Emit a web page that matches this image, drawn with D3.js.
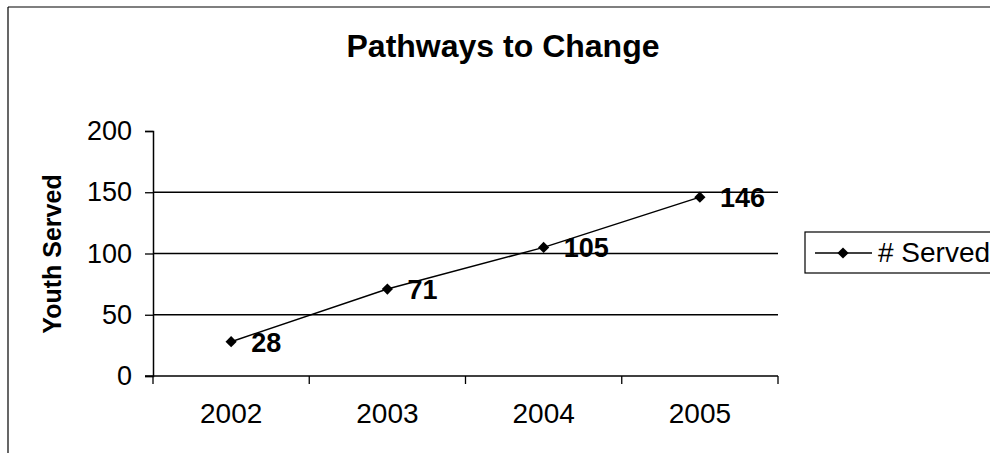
<!DOCTYPE html>
<html>
<head>
<meta charset="utf-8">
<script src="https://cdn.jsdelivr.net/npm/d3@7"></script>
<style>
  body { margin: 0; background: #fff; }
  svg { display: block; font-family: "Liberation Sans", Arial, sans-serif; }
</style>
</head>
<body>
<svg id="chart" width="990" height="453"></svg>
<script>
// data
let years = ['2002', '2003', '2004', '2005']
let served = [28, 71, 105, 146]
let yTicks = [0, 50, 100, 150, 200]
let gridTicks = [50, 100, 150]

let svg = d3.select('#chart')

// outer chart border (only top and left show in the scan)
svg.append('line').attr('x1', 8).attr('y1', 7).attr('x2', 990).attr('y2', 7)
   .attr('stroke', '#000').attr('stroke-width', 1.2)
svg.append('line').attr('x1', 8).attr('y1', 7).attr('x2', 8).attr('y2', 453)
   .attr('stroke', '#000').attr('stroke-width', 1.2)

let xScale = d3.scaleBand()
    .domain(years)
    .range([153, 778])
    .padding(0)

let yScale = d3.scaleLinear()
    .domain([0, 200])
    .range([376, 131])

// gridlines
svg.append('g')
   .selectAll('line')
   .data(gridTicks)
   .enter()
     .append('line')
     .attr('x1', 153).attr('x2', 778)
     .attr('y1', d => yScale(d)).attr('y2', d => yScale(d))
     .attr('stroke', '#000').attr('stroke-width', 1.3)

// y axis
let yAxis = svg.append('g')
   .attr('transform', 'translate(153, 0)')
   .call(d3.axisLeft(yScale).tickValues(yTicks).tickSize(8).tickPadding(13))
yAxis.select('.domain').attr('stroke-width', 1.5)
yAxis.selectAll('.tick line').attr('stroke-width', 1.3)
yAxis.selectAll('text')
   .style('font-size', '27px')
   .style('font-family', '"Liberation Sans", Arial, sans-serif')
   .attr('fill', '#000')

// x axis: labels centered in bands, ticks on band edges
let xAxis = svg.append('g')
   .attr('transform', 'translate(0, 376)')
   .call(d3.axisBottom(xScale).tickSize(0).tickPadding(27))
xAxis.select('.domain').remove()
xAxis.selectAll('text')
   .style('font-size', '28px')
   .style('font-family', '"Liberation Sans", Arial, sans-serif')
   .attr('fill', '#000')
svg.append('line')
   .attr('x1', 145).attr('x2', 778)
   .attr('y1', yScale(0)).attr('y2', yScale(0))
   .attr('stroke', '#000').attr('stroke-width', 1.5)
let edges = years.map(d => xScale(d)).concat([xScale(years[3]) + xScale.bandwidth()])
svg.append('g')
   .selectAll('line')
   .data(edges)
   .enter()
     .append('line')
     .attr('x1', d => d).attr('x2', d => d)
     .attr('y1', yScale(0)).attr('y2', yScale(0) + 8)
     .attr('stroke', '#000').attr('stroke-width', 1.3)

// the series
let cx = d => xScale(d) + xScale.bandwidth() / 2
let line = d3.line()
    .x((d, i) => cx(years[i]))
    .y(d => yScale(d))
svg.append('path')
   .datum(served)
   .attr('d', line)
   .attr('fill', 'none')
   .attr('stroke', '#000')
   .attr('stroke-width', 1.5)

let diamond = d3.symbol().type(d3.symbolDiamond2).size(80)
svg.append('g')
   .selectAll('path')
   .data(served)
   .enter()
     .append('path')
     .attr('d', diamond)
     .attr('transform', (d, i) => `translate(${cx(years[i])}, ${yScale(d)})`)
     .attr('fill', '#000')

// data labels
svg.append('g')
   .selectAll('text')
   .data(served)
   .enter()
     .append('text')
     .attr('x', (d, i) => cx(years[i]) + 20)
     .attr('y', d => yScale(d) + 10)
     .style('font-size', '27px')
     .style('font-weight', 'bold')
     .text(d => d)

// title
svg.append('text')
   .attr('x', 503).attr('y', 57)
   .style('text-anchor', 'middle')
   .style('font-size', '32px')
   .style('font-weight', 'bold')
   .text('Pathways to Change')

// y label
svg.append('text')
   .attr('transform', 'translate(61, 254) rotate(270)')
   .style('text-anchor', 'middle')
   .style('font-size', '25px')
   .style('font-weight', 'bold')
   .text('Youth Served')

// legend
let lg = svg.append('g').attr('transform', 'translate(805, 232)')
lg.append('rect')
  .attr('x', 0).attr('y', 0).attr('width', 200).attr('height', 41)
  .attr('fill', '#fff').attr('stroke', '#000').attr('stroke-width', 1.2)
lg.append('line')
  .attr('x1', 10).attr('x2', 67).attr('y1', 21).attr('y2', 21)
  .attr('stroke', '#000').attr('stroke-width', 1.5)
lg.append('path')
  .attr('d', diamond)
  .attr('transform', 'translate(38, 21)')
lg.append('text')
  .attr('x', 73).attr('y', 30)
  .style('font-size', '28px')
  .text('# Served')
</script>
</body>
</html>
